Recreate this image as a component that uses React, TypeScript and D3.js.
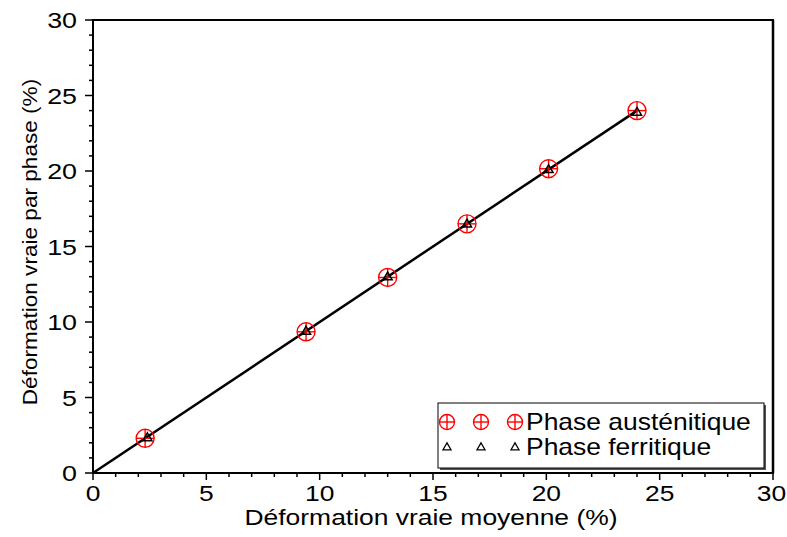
import React from "react";
import * as d3 from "d3";

const austX = [2.3, 9.4, 13.0, 16.5, 20.1, 24.0];
const austY = [2.3, 9.35, 12.95, 16.5, 20.15, 24.0];
const ferrX = [2.4, 9.4, 13.0, 16.5, 20.1, 24.0];
const ferrY = [2.35, 9.4, 13.0, 16.5, 20.1, 23.9];
const fitX = [0, 24];
const fitY = [0, 24];
const xTicks = [0, 5, 10, 15, 20, 25, 30];
const yTicks = [0, 5, 10, 15, 20, 25, 30];
const legendLabels = ["Phase austénitique", "Phase ferritique"];

const W = 787;
const H = 537;
const L = 93, R = 773, T = 20, B = 473;
const FONT = "Liberation Sans, Arial, sans-serif";

function triPath(cx: number, cy: number, s: number) {
  const h = s * 0.87;
  return `M${cx},${cy - h * 0.6}L${cx + s / 2},${cy + h * 0.4}L${cx - s / 2},${cy + h * 0.4}Z`;
}

export default function App() {
  const x = d3.scaleLinear().domain([0, 30]).range([L, R]);
  const y = d3.scaleLinear().domain([0, 30]).range([B, T]);
  const minor = d3.range(0, 31, 1);
  const line = d3.line<number>().x((d, i) => x(fitX[i])).y((d, i) => y(fitY[i]));

  const circ = (cx: number, cy: number, r: number, key: string) => (
    <g key={key} stroke="#ff0000" strokeWidth={1.4} fill="none">
      <circle cx={cx} cy={cy} r={r} />
      <line x1={cx - r} x2={cx + r} y1={cy} y2={cy} />
      <line x1={cx} x2={cx} y1={cy - r} y2={cy + r} />
    </g>
  );

  return (
    <svg width={W} height={H} style={{ position: "absolute", left: 0, top: 0, background: "#fff" }} fontFamily={FONT}>
      {/* frame top/right */}
      <line x1={L} x2={R + 1} y1={T} y2={T} stroke="#000" strokeWidth={2} />
      <line x1={R} x2={R} y1={T} y2={B} stroke="#000" strokeWidth={2.5} />
      {/* axes */}
      <line x1={L} x2={R + 1} y1={B} y2={B} stroke="#000" strokeWidth={2} />
      <line x1={L} x2={L} y1={T - 1} y2={B} stroke="#000" strokeWidth={2} />
      {minor.map((v) => {
        const major = v % 5 === 0;
        return (
          <g key={"t" + v} stroke="#000" strokeWidth={1.5}>
            <line x1={x(v)} x2={x(v)} y1={B} y2={B + (major ? 7 : 4)} />
            <line x1={L} x2={L - (major ? 8 : 4)} y1={y(v)} y2={y(v)} />
          </g>
        );
      })}
      {xTicks.map((v) => (
        <g key={"xl" + v} transform={`translate(${v === 30 ? x(v) - 1.5 : x(v)},${B + 28}) scale(1.2,1)`}>
          <text fontSize={22} textAnchor="middle">{v}</text>
        </g>
      ))}
      {yTicks.map((v) => (
        <g key={"yl" + v} transform={`translate(${L - 16},${y(v) + 8}) scale(1.22,1)`}>
          <text fontSize={22} textAnchor="end">{v}</text>
        </g>
      ))}
      <g transform={`translate(${(L + R) / 2 - 2},525) scale(1.23,1)`}>
        <text fontSize={21.5} textAnchor="middle">Déformation vraie moyenne (%)</text>
      </g>
      <g transform={`translate(37,242) rotate(-90) scale(1.13,1)`}>
        <text fontSize={20} textAnchor="middle">Déformation vraie par phase (%)</text>
      </g>

      {/* fit line */}
      <path d={line(fitX) || ""} stroke="#000" strokeWidth={2.5} fill="none" />

      {austX.map((v, i) => circ(x(v), y(austY[i]), 9, "a" + i))}
      {ferrX.map((v, i) => (
        <path key={"f" + i} d={triPath(x(v), y(ferrY[i]), 9)} stroke="#000" strokeWidth={1.5} fill="none" />
      ))}

      {/* legend */}
      <rect x={440} y={405} width={326} height={65} fill="#555" />
      <rect x={438} y={403} width={326} height={65} fill="#fff" stroke="#000" strokeWidth={1} />
      {[447, 481, 515].map((cx, i) => circ(cx, 422, 7.5, "la" + i))}
      {[447, 481, 515].map((cx, i) => (
        <path key={"lf" + i} d={triPath(cx, 447, 8)} stroke="#000" strokeWidth={1.3} fill="none" />
      ))}
      <g transform="translate(526,430) scale(1.15,1)">
        <text fontSize={23}>{legendLabels[0]}</text>
      </g>
      <g transform="translate(526,455) scale(1.15,1)">
        <text fontSize={23}>{legendLabels[1]}</text>
      </g>
    </svg>
  );
}
